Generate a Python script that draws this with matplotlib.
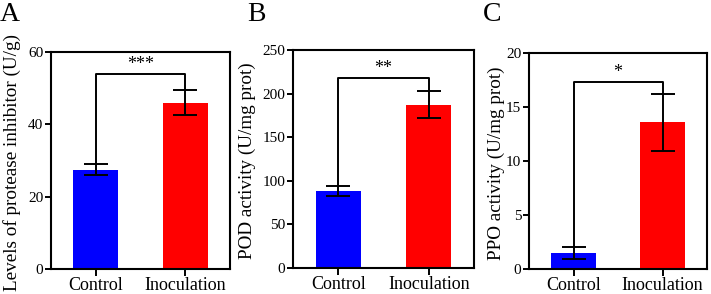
import matplotlib
matplotlib.use('Agg')
import matplotlib.pyplot as plt

# ── Data ────────────────────────────────────────────────────────────
groups = ['Control', 'Inoculation']
colors = ['#0000ff', '#ff0000']

pi_mean = [27.5, 46.0]
pi_err = [1.5, 3.5]

pod_mean = [88.0, 187.0]
pod_err = [5.5, 15.5]

ppo_mean = [1.5, 13.6]
ppo_err = [0.55, 2.65]

panel_letters = ['A', 'B', 'C']
ylabels = ['Levels of protease inhibitor (U/g)',
           'POD activity (U/mg prot)',
           'PPO activity (U/mg prot)']
signif = ['***', '**', '*']
bracket_y = [53.8, 217.5, 17.3]
ylims = [60, 250, 20]
yticks = [[0, 20, 40, 60], [0, 50, 100, 150, 200, 250], [0, 5, 10, 15, 20]]

means = [pi_mean, pod_mean, ppo_mean]
errs = [pi_err, pod_err, ppo_err]

# ── Layout (pixel boxes: left, right, top, bottom) ──────────────────
W, H = 711, 294
boxes = [(51, 230, 52, 269), (293, 474, 50, 268), (529, 707, 53, 269)]
ylabel_x = [12, 247, 496]
letter_x = [0, 247, 483]

plt.rcParams['font.family'] = ['Liberation Serif', 'DejaVu Serif']
fig = plt.figure(figsize=(W / 100, H / 100), dpi=100)

for i in range(3):
    l, r, t, b = boxes[i]
    ax = fig.add_axes([l / W, (H - b) / H, (r - l) / W, (b - t) / H])
    x = [0, 1]
    ax.bar(x, means[i], width=0.5, color=colors, edgecolor='none', zorder=2)
    ax.errorbar(x, means[i], yerr=errs[i], fmt='none', ecolor='black',
                elinewidth=1.4, capsize=8.5, capthick=1.4, zorder=3)

    # significance bracket
    y0 = means[i][0] + errs[i][0]
    y1 = means[i][1] + errs[i][1]
    by = bracket_y[i]
    ax.plot([0, 0, 1, 1], [y0, by, by, y1], color='black', lw=1.4, zorder=4)
    ax.text(0.5, by + ylims[i] * 0.005, signif[i], ha='center', va='bottom',
            fontsize=13, zorder=5)

    ax.set_xlim(-0.5, 1.5)
    ax.set_ylim(0, ylims[i])
    ax.set_yticks(yticks[i])
    ax.set_xticks(x)
    ax.set_xticklabels(groups, fontsize=13)
    ax.tick_params(axis='y', labelsize=11, length=4, width=1.4, pad=1.5)
    ax.tick_params(axis='x', length=5, width=1.4, pad=1)
    for s in ax.spines.values():
        s.set_linewidth(1.5)

    ax.set_ylabel(ylabels[i], fontsize=13.8, va='center')
    ax.yaxis.set_label_coords((ylabel_x[i] - l) / (r - l), 0.49)

    fig.text(letter_x[i] / W, 1 - 2 / H, panel_letters[i], fontsize=20,
             ha='left', va='top')

fig.savefig('out.png', dpi=100)
plt.close()
